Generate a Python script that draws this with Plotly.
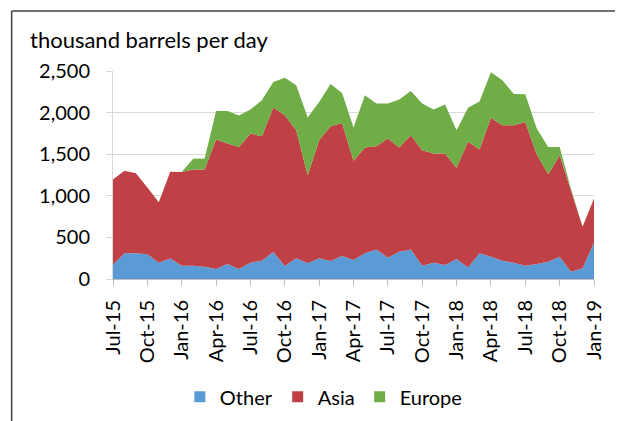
import pandas as pd
import plotly.graph_objects as go

months = pd.date_range("2015-07-01", "2019-01-01", freq="MS").strftime("%b-%y").tolist()

other = [170, 308, 308, 298, 196, 246, 160, 160, 148, 120, 180, 120, 196, 220, 324, 156,
         248, 188, 248, 216, 276, 228, 308, 356, 256, 328, 356, 160, 196, 168, 240, 138,
         308, 268, 220, 196, 160, 180, 208, 268, 88, 128, 436]
asia = [1025, 992, 964, 802, 726, 1042, 1126, 1156, 1168, 1556, 1448, 1468, 1552, 1496, 1736, 1812,
        1540, 1060, 1420, 1620, 1600, 1192, 1272, 1240, 1432, 1252, 1372, 1388, 1312, 1340, 1095, 1514,
        1248, 1670, 1628, 1652, 1728, 1320, 1052, 1220, 972, 500, 532]
europe = [0, 0, 0, 0, 0, 0, 0, 130, 132, 344, 392, 376, 288, 432, 308, 452,
          540, 692, 460, 508, 360, 400, 628, 512, 420, 576, 532, 560, 528, 590, 453, 406,
          578, 548, 540, 376, 332, 308, 328, 100, 20, 0, 0]

tick_labels = ["Jul-15", "Oct-15", "Jan-16", "Apr-16", "Jul-16", "Oct-16", "Jan-17", "Apr-17",
               "Jul-17", "Oct-17", "Jan-18", "Apr-18", "Jul-18", "Oct-18", "Jan-19"]
y_ticks = [0, 500, 1000, 1500, 2000, 2500]

series = [("Other", other, "#5B9BD5"), ("Asia", asia, "#BF4145"), ("Europe", europe, "#70AD47")]

FONT = "Lato"
fig = go.Figure()
for name, vals, col in series:
    fig.add_trace(go.Scatter(x=months, y=vals, name=name, mode="none", stackgroup="one",
                             fillcolor=col, line=dict(width=0), showlegend=False,
                             hoverinfo="x+y+name"))
for name, vals, col in series:
    fig.add_trace(go.Scatter(x=[None], y=[None], name=name, mode="markers",
                             marker=dict(symbol="square", size=11, color=col), showlegend=True))

# page body adds an 8px offset; work in screen (reference) pixels
OFF = 8
W, H = 623, 421
PL, PR, PT, PB = 113.3, 594, 70.7, 279  # plot area in screen pixels
L = PL - OFF
T = PT - OFF
R = W - (PR - OFF)
B = H - (PB - OFF)

def px_x(x):
    return (x - PL) / (PR - PL)

def px_y(y):
    return (PB - y) / (PB - PT)

fig.update_layout(
    width=W, height=H,
    margin=dict(l=L, r=R, t=T, b=B, pad=0, autoexpand=False),
    paper_bgcolor="white", plot_bgcolor="white",
    font=dict(family=FONT, size=20, color="#000000"),
    showlegend=True,
    legend=dict(orientation="h", x=px_x(324), xanchor="center", y=px_y(397), yanchor="middle",
                font=dict(size=20, family=FONT), traceorder="normal", itemwidth=30,
                bgcolor="rgba(0,0,0,0)"),
    xaxis=dict(type="category", range=[0, len(months) - 1], tickmode="array", tickvals=tick_labels,
               ticktext=tick_labels, tickangle=-90, ticks="outside", ticklen=6, tickcolor="#BFBFBF",
               showline=True, linecolor="#BFBFBF", linewidth=1, showgrid=False, zeroline=False,
               tickfont=dict(size=20, family=FONT), ticklabelstandoff=6, automargin=False),
    yaxis=dict(range=[0, 2500], tickmode="array", tickvals=y_ticks, tickformat=",",
               ticks="outside", ticklen=6, tickcolor="#D9D9D9", showline=True, linecolor="#D9D9D9",
               linewidth=1, showgrid=True, gridcolor="#D9D9D9", gridwidth=1, zeroline=False,
               tickfont=dict(size=20, family=FONT), ticklabelstandoff=12, automargin=False),
    annotations=[dict(text="thousand barrels per day", xref="paper", yref="paper",
                      x=px_x(28), y=px_y(39), xanchor="left", yanchor="middle", showarrow=False,
                      font=dict(size=22, family=FONT, color="#000000"))],
    shapes=[
        dict(type="line", xref="paper", yref="paper", x0=px_x(12), x1=px_x(660), y0=px_y(10.5), y1=px_y(10.5),
             line=dict(color="#404040", width=1.5)),
        dict(type="line", xref="paper", yref="paper", x0=px_x(12), x1=px_x(12), y0=px_y(10.5), y1=px_y(460),
             line=dict(color="#404040", width=1.5)),
    ],
)

fig.write_html("out.html")
